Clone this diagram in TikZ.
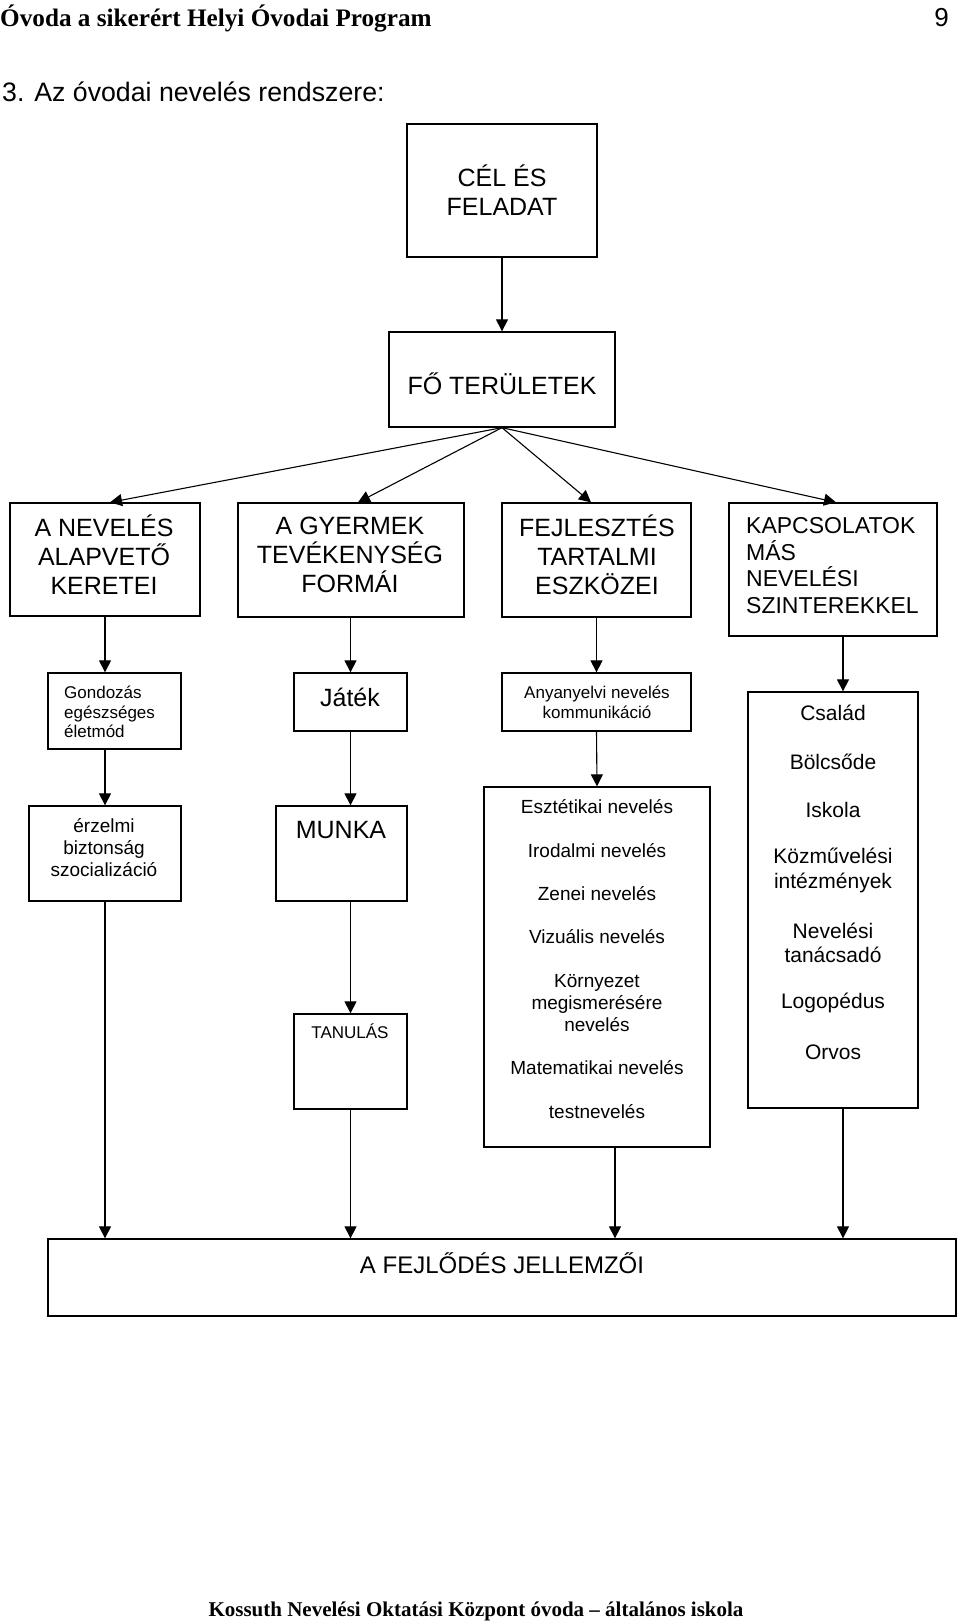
\documentclass[tikz,border=0pt]{standalone}
\usepackage{fontspec}
\setmainfont{Liberation Sans}
\newfontfamily\tnr{Liberation Serif}
\usetikzlibrary{arrows.meta}
\begin{document}
\begin{tikzpicture}[x=1pt,y=-1pt,
  box/.style={draw, line width=1.3pt, rectangle, inner sep=0pt},
  arr/.style={line width=1.1pt, -{Triangle[length=12pt,width=12pt]}},
  txt/.style={inner sep=0pt, align=center},
  ftA/.style={font=\fontsize{25}{29}\selectfont},
  ftB/.style={font=\fontsize{23}{26.5}\selectfont},
  ftS/.style={font=\fontsize{17}{19.7}\selectfont},
  ftM/.style={font=\fontsize{19}{21.8}\selectfont},
  ftL/.style={font=\fontsize{21}{24.4}\selectfont}
]
\useasboundingbox (0,0) rectangle (960,1622);

% header / footer
\node[anchor=base west, inner sep=0pt, font=\tnr\bfseries\fontsize{25.2}{28}\selectfont] (hdr) at (0,26) {Óvoda a sikerért Helyi Óvodai Program};
\node[anchor=base east, inner sep=0pt, font=\fontsize{26}{30}\selectfont] (pg) at (949,26) {9};
\node[anchor=base west, inner sep=0pt, font=\fontsize{26.7}{30}\selectfont] (title) at (2,101) {3. Az óvodai nevelés rendszere:};
\node[anchor=base, inner sep=0pt, font=\tnr\bfseries\fontsize{21}{24}\selectfont] (ftr) at (476,1616) {Kossuth Nevelési Oktatási Központ óvoda – általános iskola};

% boxes
\node[box, minimum width=190, minimum height=133] (cel) at (502,190.5) {};
\node[box, minimum width=226, minimum height=95] (fo) at (502,379.5) {};
\node[box, minimum width=190, minimum height=113] (k1) at (105,559.5) {};
\node[box, minimum width=226, minimum height=114] (k2) at (351,560) {};
\node[box, minimum width=189, minimum height=114] (k3) at (596.5,560) {};
\node[box, minimum width=208, minimum height=133] (k4) at (833,569.5) {};
\node[box, minimum width=133, minimum height=76] (g1) at (114.5,711) {};
\node[box, minimum width=113, minimum height=58] (g2) at (350.5,702) {};
\node[box, minimum width=189, minimum height=58] (g3) at (596.5,702) {};
\node[box, minimum width=170, minimum height=416] (g4) at (833,900) {};
\node[box, minimum width=152, minimum height=95] (h1) at (105,853.5) {};
\node[box, minimum width=131, minimum height=95] (h2) at (341.5,853.5) {};
\node[box, minimum width=226, minimum height=360] (h3) at (597,967) {};
\node[box, minimum width=113, minimum height=95] (t2) at (350.5,1061.5) {};
\node[box, minimum width=908, minimum height=77] (bot) at (502,1277.5) {};

% texts
\node[txt, ftA] (tcel) at (502,190) {CÉL ÉS\\FELADAT};
\node[txt, ftA] (tfo) at (502,384) {FŐ TERÜLETEK};
\node[txt, ftA] (tk1) at (104,555) {A NEVELÉS\\ALAPVETŐ\\KERETEI};
\node[txt, ftA] (tk2) at (350,555) {A GYERMEK\\TEVÉKENYSÉG\\FORMÁI};
\node[txt, ftA] (tk3) at (597,555) {FEJLESZTÉS\\TARTALMI\\ESZKÖZEI};
\node[txt, ftB, align=left, anchor=west] (tk4) at (746,565.5) {KAPCSOLATOK\\MÁS\\NEVELÉSI\\SZINTEREKKEL};
\node[txt, ftS, align=left, anchor=west] (tg1) at (64,712) {Gondozás\\egészséges\\életmód};
\node[txt, ftA] (tg2) at (350,697) {Játék};
\node[txt, ftS] (tg3) at (597,702) {Anyanyelvi nevelés\\kommunikáció};
\node[txt, ftM] (th1) at (104,847.5) {érzelmi\\biztonság\\szocializáció};
\node[txt, ftA] (th2) at (341,830) {MUNKA};
\node[txt, ftS] (tt2) at (350,1031) {TANULÁS};

\node[txt, ftM] (e1) at (597,807) {Esztétikai nevelés};
\node[txt, ftM] (e2) at (597,851) {Irodalmi nevelés};
\node[txt, ftM] (e3) at (597,894) {Zenei nevelés};
\node[txt, ftM] (e4) at (597,937) {Vizuális nevelés};
\node[txt, ftM] (e5) at (597,1003) {Környezet\\megismerésére\\nevelés};
\node[txt, ftM] (e6) at (597,1068) {Matematikai nevelés};
\node[txt, ftM] (e7) at (597,1112) {testnevelés};

\node[txt, ftL] (c1) at (833,713) {Család};
\node[txt, ftL] (c2) at (833,762) {Bölcsőde};
\node[txt, ftL] (c3) at (833,810) {Iskola};
\node[txt, ftL] (c4) at (833,870.5) {Közművelési\\intézmények};
\node[txt, ftL] (c5) at (833,943) {Nevelési\\tanácsadó};
\node[txt, ftL] (c6) at (833,1003) {Logopédus};
\node[txt, ftL] (c7) at (833,1052) {Orvos};

\node[txt, font=\fontsize{24}{28}\selectfont] (tbot) at (502,1263) {A FEJLŐDÉS JELLEMZŐI};

% arrows
\draw[arr] (cel.south) -- (fo.north);
\draw[arr] (fo.south) -- ([xshift=5]k1.north);
\draw[arr] (fo.south) -- ([xshift=7]k2.north);
\draw[arr] (fo.south) -- ([xshift=-5.5]k3.north);
\draw[arr] (fo.south) -- ([xshift=3]k4.north);
\draw[arr] (k1.south) -- (k1.south |- g1.north);
\draw[arr] (h1.north |- g1.south) -- (h1.north);
\draw[arr] (h1.south) -- (h1.south |- bot.north);
\draw[arr] (g2.north |- k2.south) -- (g2.north);
\draw[arr] (g2.south) -- (g2.south |- h2.north);
\draw[arr] (t2.north |- h2.south) -- (t2.north);
\draw[arr] (t2.south) -- (t2.south |- bot.north);
\draw[arr] (k3.south) -- (g3.north);
\draw[arr] (g3.south) -- (h3.north);
\draw[arr] ([xshift=18]h3.south) -- ([xshift=18]h3.south |- bot.north);
\draw[arr] ([xshift=10]k4.south) -- ([xshift=10]k4.south |- g4.north);
\draw[arr] ([xshift=10]g4.south) -- ([xshift=10]g4.south |- bot.north);
\end{tikzpicture}
\end{document}
